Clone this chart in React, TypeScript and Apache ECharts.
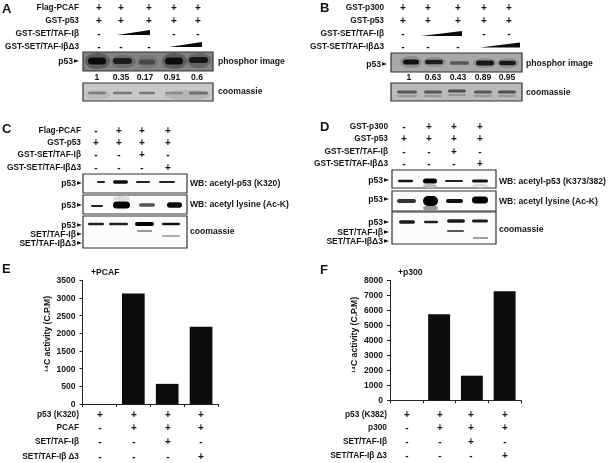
import React, { useEffect, useRef } from "react";
import * as echarts from "echarts";

const categories = ["1", "2", "3", "4"];
const valuesE = [0, 3130, 570, 2185];
const valuesF = [0, 5730, 1640, 7270];
const FAMILY = '"Liberation Sans", Arial, sans-serif';
const FONT = `bold 8.6px ${FAMILY}`;
const ROW = `bold 8.3px ${FAMILY}`;
const MARK = `bold 10px ${FAMILY}`;
const BIG = `bold 13px ${FAMILY}`;
const INK = "#141414";

const letters: [string, number, number][] = [["A", 2, 8], ["B", 320, 7], ["C", 2, 128], ["D", 320, 126], ["E", 2, 268], ["F", 320, 269]];
const beta = "GST-SET/TAF-I\u03b2";
const betaD = "GST-SET/TAF-I\u03b2\u03943";
const sBeta = "SET/TAF-I\u03b2";
const sBetaD = "SET/TAF-I\u03b2\u03943";
const sBetaSpaced = "SET/TAF-I\u03b2 \u03943";

type Table = { right: number; xs: number[]; rows: [string, number, string[]][] };
const tables: Table[] = [
  { right: 79, xs: [99, 121, 149, 174, 198], rows: [
    ["Flag-PCAF", 7, ["+", "+", "+", "+", "+"]],
    ["GST-p53", 20, ["+", "+", "+", "+", "+"]],
    [beta, 33, ["-", "", "", "-", "-"]],
    [betaD, 46, ["-", "-", "-", "", ""]] ] },
  { right: 384, xs: [403, 428, 458, 484, 509], rows: [
    ["GST-p300", 7, ["+", "+", "+", "+", "+"]],
    ["GST-p53", 20, ["+", "+", "+", "+", "+"]],
    [beta, 33, ["-", "", "", "-", "-"]],
    [betaD, 46, ["-", "-", "-", "", ""]] ] },
  { right: 81, xs: [96, 119, 142, 168], rows: [
    ["Flag-PCAF", 130, ["-", "+", "+", "+"]],
    ["GST-p53", 142, ["+", "+", "+", "+"]],
    [beta, 154, ["-", "-", "+", "-"]],
    [betaD, 167, ["-", "-", "-", "+"]] ] },
  { right: 388, xs: [404, 429, 454, 480], rows: [
    ["GST-p300", 126, ["-", "+", "+", "+"]],
    ["GST-p53", 138, ["+", "+", "+", "+"]],
    [beta, 151, ["-", "-", "+", "-"]],
    [betaD, 163, ["-", "-", "-", "+"]] ] },
  { right: 79, xs: [100, 134, 168, 201], rows: [
    ["p53 (K320)", 414, ["+", "+", "+", "+"]],
    ["PCAF", 427, ["-", "+", "+", "+"]],
    [sBeta, 441, ["-", "-", "+", "-"]],
    [sBetaSpaced, 456, ["-", "-", "-", "+"]] ] },
  { right: 387, xs: [407, 440, 471, 505], rows: [
    ["p53 (K382)", 414, ["+", "+", "+", "+"]],
    ["p300", 427, ["-", "+", "+", "+"]],
    [sBeta, 441, ["-", "-", "+", "-"]],
    [sBetaSpaced, 455, ["-", "-", "-", "+"]] ] },
];

const wedges: number[][] = [[117, 150, 35, 30], [169, 202, 47, 42], [421, 462, 36, 31], [480, 520, 47.5, 42.5]];

const panels: [number, number, number, number, string][] = [
  [83, 213, 52, 71, "#828282"], [83, 213, 83, 101, "#c8c8c8"],
  [391, 522, 53, 72, "#a8a8a8"], [391, 522, 83, 101, "#bababa"],
  [83, 187, 174, 193, "#fbfbfb"], [83, 187, 195, 214, "#fbfbfb"], [83, 187, 216, 248, "#fbfbfb"],
  [392, 496, 170, 188, "#fbfbfb"], [392, 496, 191, 211, "#fbfbfb"], [392, 496, 212, 244, "#fbfbfb"],
];

// soft smears behind bands: x0, x1, y0, y1, colour
const smears: [number, number, number, number, string][] = [
  [85, 110, 53, 69, "#5c5c5c"], [111, 136, 55, 68, "#6c6c6c"], [137, 158, 55, 68, "#777"], [162, 187, 53, 69, "#5c5c5c"], [187, 211, 53, 68, "#646464"],
  [400, 422, 56, 68, "#8c8c8c"], [423, 446, 57, 67, "#909090"], [473, 497, 58, 68, "#909090"], [497, 519, 58, 68, "#909090"],
  [85, 110, 90, 99, "#bbb"], [165, 210, 90, 100, "#b5b5b5"],
  [113, 130, 196, 201, "#ddd"], [423, 437, 184, 188, "#bbb"], [472, 488, 184, 187.5, "#ddd"], [423, 438, 205, 211, "#999"],
];

// bands: x0, x1, y, thickness, colour
const bands: [number, number, number, number, string][] = [
  [88, 106, 61, 7, "#0c0c0c"], [113, 132, 61, 6, "#1c1c1c"], [139, 155, 62, 5, "#484848"], [165, 183, 61, 7, "#0c0c0c"], [189, 208, 60, 6, "#161616"],
  [88, 106, 93, 2.5, "#7c7c7c"], [113, 132, 93, 2.5, "#777"], [139, 155, 93, 2.5, "#777"], [165, 183, 93, 2.5, "#888"], [189, 208, 93, 3, "#707070"],
  [403, 419, 62, 5, "#101010"], [425, 443, 62, 4.5, "#1c1c1c"], [450, 469, 63, 3.5, "#555"], [476, 494, 63, 5, "#141414"], [499, 516, 63, 4.5, "#181818"],
  [397, 417, 92, 3, "#555"], [424, 442, 92, 3, "#555"], [448, 466, 91, 3, "#4c4c4c"], [474, 492, 92, 3, "#555"], [498, 516, 92, 3, "#505050"],
  [397, 417, 96, 1.5, "#8a8a8a"], [424, 442, 96, 1.5, "#8a8a8a"], [448, 466, 95, 1.5, "#8a8a8a"], [474, 492, 96, 1.5, "#8a8a8a"], [498, 516, 96, 1.5, "#8a8a8a"],
  [97, 105, 182, 1.8, "#222"], [113, 128, 182, 3.5, "#0a0a0a"], [136, 150, 182, 2, "#222"], [159, 175, 182, 2.2, "#222"],
  [91, 103, 206, 2, "#222"], [113, 130, 205, 7, "#050505"], [139, 155, 205, 3.5, "#555"], [167, 182, 205, 5.5, "#0a0a0a"],
  [88, 104, 224, 2.5, "#222"], [109, 128, 224, 2.5, "#222"], [135, 154, 224, 4, "#050505"], [162, 180, 224, 2.5, "#111"],
  [137, 152, 231, 1.2, "#333"], [162, 180, 236, 1.2, "#666"],
  [398, 413, 181, 2.5, "#111"], [423, 437, 181, 5, "#050505"], [445, 463, 181, 2, "#222"], [472, 488, 181, 3, "#111"],
  [397, 416, 201, 4, "#333"], [423, 438, 201, 10, "#000"], [446, 463, 201, 4, "#111"], [472, 488, 200, 7, "#000"],
  [399, 415, 222, 3.5, "#1a1a1a"], [424, 438, 222, 2.5, "#222"], [447, 465, 221, 3.5, "#1a1a1a"], [472, 488, 221, 3, "#1a1a1a"],
  [447, 464, 231, 1.5, "#222"], [473, 488, 238, 1.2, "#444"],
];

const sideLabels: [string, number, number][] = [
  ["phosphor image", 218, 61], ["coomassie", 218, 91], ["phosphor image", 526, 63], ["coomassie", 526, 92],
  ["WB: acetyl-p53 (K320)", 190, 183], ["WB: acetyl lysine (Ac-K)", 190, 204], ["coomassie", 190, 231],
  ["WB: acetyl-p53 (K373/382)", 499, 181], ["WB: acetyl lysine (Ac-K)", 499, 201], ["coomassie", 499, 229],
  ["+PCAF", 91, 272], ["+p300", 398, 272],
];
const numsA: [string, number][] = [["1", 97], ["0.35", 121], ["0.17", 145], ["0.91", 172], ["0.6", 197]];
const numsB: [string, number][] = [["1", 409], ["0.63", 433], ["0.43", 458], ["0.89", 483], ["0.95", 507]];

const arrows: [string, number, number][] = [
  ["p53", 79, 61], ["p53", 387, 64],
  ["p53", 82, 183], ["p53", 82, 205], ["p53", 82, 225], [sBeta, 82, 234], [sBetaD, 82, 243],
  ["p53", 389, 180], ["p53", 389, 199], ["p53", 389, 222], [sBeta, 389, 232], [sBetaD, 389, 241],
];

const yTitle = "\u00b9\u2074C activity (C.P.M)";
const yTitles: [number, number][] = [[47, 334], [354, 335]];

function txt(text: string, x: number, y: number, align = "left", font = FONT) {
  return { type: "text", silent: true, style: { text, x, y, font, fill: INK, textAlign: align, textVerticalAlign: "middle" } };
}

function buildGraphic() {
  const el: any[] = [];
  letters.forEach(([s, x, y]) => el.push(txt(s, x, y, "left", BIG)));
  tables.forEach((t) => t.rows.forEach(([label, y, marks]) => {
    el.push(txt(label, t.right, y, "right", ROW));
    marks.forEach((m, i) => { if (m) el.push(txt(m, t.xs[i], y, "center", MARK)); });
  }));
  wedges.forEach(([a, b, bottom, top]) => el.push({ type: "polygon", silent: true, shape: { points: [[a, bottom], [b, bottom], [b, top]] }, style: { fill: "#0a0a0a" } }));
  panels.forEach(([a, b, c, d, fill]) => el.push({ type: "rect", silent: true, shape: { x: a, y: c, width: b - a, height: d - c }, style: { fill, stroke: "#333", lineWidth: 1.2 } }));
  smears.forEach(([a, b, c, d, fill]) => el.push({ type: "ellipse", silent: true, shape: { cx: (a + b) / 2, cy: (c + d) / 2, rx: (b - a) / 2, ry: (d - c) / 2 }, style: { fill } }));
  bands.forEach(([a, b, y, h, fill]) => el.push({ type: "rect", silent: true, shape: { x: a, y: y - h / 2, width: b - a, height: h, r: h / 2 }, style: { fill } }));
  sideLabels.forEach(([s, x, y]) => el.push(txt(s, x, y)));
  numsA.forEach(([s, x]) => el.push(txt(s, x, 77, "center")));
  numsB.forEach(([s, x]) => el.push(txt(s, x, 77, "center")));
  arrows.forEach(([s, x, y]) => {
    el.push(txt(s, x - 6, y, "right"));
    el.push({ type: "polygon", silent: true, shape: { points: [[x - 5, y - 1.7], [x, y], [x - 5, y + 1.7]] }, style: { fill: "#111" } });
  });
  yTitles.forEach(([x, y]) => {
    el.push({ type: "text", silent: true, x, y, rotation: Math.PI / 2, style: { text: yTitle, x: 0, y: 0, font: FONT, fill: INK, textAlign: "center", textVerticalAlign: "middle" } });
  });
  return el;
}

const axisLine = { show: true, lineStyle: { color: "#222", width: 1 } };

function yAxis(gridIndex: number, max: number, interval: number) {
  return {
    type: "value", gridIndex, min: 0, max, interval,
    axisLine, axisTick: { show: true, length: 3, lineStyle: { color: "#222" } },
    axisLabel: { fontFamily: "Liberation Sans", fontWeight: "bold", fontSize: 8.6, color: INK, margin: 7, formatter: (v: number) => String(v) },
    splitLine: { show: false },
  };
}
function xAxis(gridIndex: number) {
  return {
    type: "category", gridIndex, data: categories, boundaryGap: true,
    axisLine, axisTick: { show: true, length: 3, alignWithLabel: false, lineStyle: { color: "#222" } },
    axisLabel: { show: false }, splitLine: { show: false },
  };
}

export default function App() {
  const ref = useRef<HTMLDivElement>(null);
  useEffect(() => {
    const chart = echarts.init(ref.current!, undefined, { renderer: "svg" });
    chart.setOption({
      animation: false,
      backgroundColor: "#fff",
      grid: [
        { left: 82.5, top: 280.3, width: 135.5, height: 123.7 },
        { left: 390, top: 280.3, width: 131, height: 120 },
      ],
      xAxis: [xAxis(0), xAxis(1)],
      yAxis: [yAxis(0, 3500, 500), yAxis(1, 8000, 1000)],
      series: [
        { type: "bar", xAxisIndex: 0, yAxisIndex: 0, data: valuesE, barWidth: "67%", itemStyle: { color: "#0c0c0c" } },
        { type: "bar", xAxisIndex: 1, yAxisIndex: 1, data: valuesF, barWidth: "67%", itemStyle: { color: "#0c0c0c" } },
      ],
      graphic: { elements: buildGraphic() },
    });
    return () => chart.dispose();
  }, []);
  return <div ref={ref} style={{ position: "absolute", left: 0, top: 0, width: 608, height: 463, filter: "blur(0.45px)" }} />;
}
